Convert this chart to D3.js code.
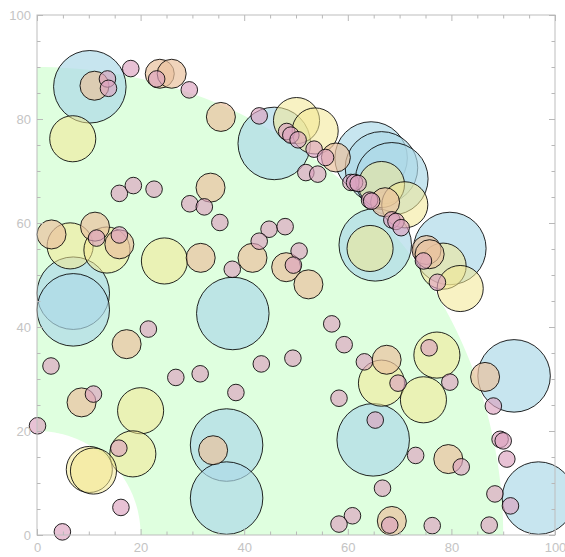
<!DOCTYPE html>
<html>
<head>
<meta charset="utf-8">
<script src="https://cdn.jsdelivr.net/npm/d3@7"></script>
<style>
  body { margin: 0; background: #fff; }
  .tick text { font-family: "Liberation Sans", Arial, sans-serif; font-size: 13px; fill: #c4c4c4; }
  .tick line { stroke: #b8b8b8; }
</style>
</head>
<body>
<div id="chart"></div>
<script>
// Radii (data units) for each bubble group
const radii = { blue: 7, yellow: 4.45, tan: 2.8, pink: 1.6 };

// Shaded band: radius range around the origin
const bandInner = 20;
const bandOuter = 90;

const majorTicks = [0, 20, 40, 60, 80, 100];
const minorTicks = [5, 10, 15, 25, 30, 35, 45, 50, 55, 65, 70, 75, 85, 90, 95];

const bluePts = [
  [10.2, 86.2], [45.8, 75.3], [64.5, 72.5], [66.5, 70.6], [68.5, 68.5],
  [65.3, 55.8], [79.7, 55.1], [7.0, 46.5], [7.0, 43.3], [37.8, 42.6],
  [92.1, 30.6], [64.9, 18.3], [36.6, 17.3], [36.6, 7.1], [96.8, 7.1]
];

const yellowPts = [
  [6.9, 76.2], [50.1, 79.7], [53.7, 77.7], [66.5, 67.4], [71.0, 63.5],
  [64.3, 55.1], [78.4, 51.7], [81.7, 47.4], [6.4, 55.6], [13.5, 54.8],
  [24.6, 52.7], [77.2, 34.6], [66.5, 29.2], [74.6, 26.0], [20.0, 23.9],
  [18.5, 15.6], [10.1, 12.6], [10.9, 12.3]
];

const tanPts = [
  [11.1, 86.4], [23.7, 88.7], [26.0, 88.7], [35.5, 80.4], [57.7, 72.6],
  [67.2, 64.0], [33.5, 66.8], [2.8, 57.8], [11.2, 59.3], [15.9, 55.9],
  [31.6, 53.3], [41.6, 53.3], [48.1, 51.5], [52.4, 48.2], [75.2, 54.8],
  [75.8, 54.0], [17.3, 36.7], [67.5, 33.7], [86.5, 30.4], [8.6, 25.5],
  [34.0, 16.3], [79.4, 14.6], [68.5, 2.7]
];

const pinkPts = [
  [13.6, 87.7], [13.8, 85.9], [18.1, 89.7], [23.1, 87.7], [29.4, 85.6],
  [42.9, 80.6], [48.2, 77.6], [49.0, 76.9], [50.4, 76.0], [53.5, 74.2],
  [55.7, 72.6], [51.9, 69.7], [54.2, 69.4], [60.6, 67.8], [61.3, 67.8],
  [62.0, 67.6], [64.2, 64.4], [64.6, 64.2], [68.5, 60.6], [69.3, 60.3],
  [70.3, 59.1], [15.9, 65.7], [18.6, 67.2], [22.6, 66.5], [29.5, 63.7],
  [32.3, 63.1], [35.3, 60.1], [44.8, 58.8], [47.9, 59.3], [42.9, 56.5],
  [11.5, 57.1], [15.9, 57.7], [37.7, 51.1], [50.6, 54.6], [49.5, 51.9],
  [74.6, 52.7], [77.3, 48.6], [21.5, 39.6], [56.9, 40.6], [59.3, 36.6],
  [2.7, 32.5], [49.4, 34.0], [43.3, 32.9], [31.5, 31.0], [26.8, 30.3],
  [63.2, 33.3], [75.7, 36.0], [10.9, 27.1], [38.4, 27.4], [58.3, 26.3],
  [69.7, 29.2], [79.7, 29.4], [88.1, 24.8], [65.3, 22.1], [0.1, 21.0],
  [15.8, 16.7], [89.4, 18.4], [90.0, 18.1], [90.7, 14.6], [73.1, 15.3],
  [81.9, 13.1], [66.7, 9.0], [88.4, 7.9], [91.4, 5.6], [16.2, 5.3],
  [4.9, 0.6], [60.9, 3.7], [58.3, 2.1], [68.1, 1.9], [76.3, 1.8],
  [87.3, 1.9]
];

const groups = [
  { name: 'blue', pts: bluePts, fill: 'rgb(173,216,232)', opacity: 0.68 },
  { name: 'yellow', pts: yellowPts, fill: 'rgb(242,231,146)', opacity: 0.55 },
  { name: 'tan', pts: tanPts, fill: 'rgb(234,194,158)', opacity: 0.7 },
  { name: 'pink', pts: pinkPts, fill: 'rgb(220,162,190)', opacity: 0.65 }
];

const W = 565, H = 557;
const x = d3.scaleLinear().domain([0, 100]).range([37, 555]);
const y = d3.scaleLinear().domain([0, 100]).range([535, 15]);

const svg = d3.select('#chart').append('svg')
  .attr('width', W)
  .attr('height', H);

// Green band between the two radii
const angles = d3.range(0, 91, 1).map(d => d * Math.PI / 180);
const band = angles.map(a => [bandOuter * Math.cos(a), bandOuter * Math.sin(a)])
  .concat(angles.slice().reverse().map(a => [bandInner * Math.cos(a), bandInner * Math.sin(a)]));

svg.append('path')
  .datum(band)
  .attr('fill', '#dfffdf')
  .attr('d', d3.line().x(d => x(d[0])).y(d => y(d[1])).curve(d3.curveLinearClosed));

// Bubbles
groups.forEach(g => {
  svg.append('g')
    .selectAll('circle')
    .data(g.pts)
    .enter().append('circle')
    .attr('cx', d => x(d[0]))
    .attr('cy', d => y(d[1]))
    .attr('r', x(radii[g.name]) - x(0))
    .attr('fill', g.fill)
    .attr('fill-opacity', g.opacity)
    .attr('stroke', '#000')
    .attr('stroke-opacity', 0.85)
    .attr('stroke-width', 1);
});

// Frame
svg.append('rect')
  .attr('x', x(0)).attr('y', y(100))
  .attr('width', x(100) - x(0)).attr('height', y(0) - y(100))
  .attr('fill', 'none')
  .attr('stroke', '#bdbdbd')
  .attr('stroke-width', 1);

// Major ticks with labels (left, bottom), inward
svg.append('g')
  .attr('transform', `translate(${x(0)},0)`)
  .call(d3.axisLeft(y).tickValues(majorTicks).tickSize(-6).tickSizeOuter(0).tickPadding(6))
  .call(g => g.select('.domain').remove());

svg.append('g')
  .attr('transform', `translate(0,${y(0)})`)
  .call(d3.axisBottom(x).tickValues(majorTicks).tickSize(-6).tickSizeOuter(0).tickPadding(8))
  .call(g => g.select('.domain').remove());

// Mirrored major ticks (top, right)
svg.append('g')
  .attr('transform', `translate(0,${y(100)})`)
  .call(d3.axisTop(x).tickValues(majorTicks).tickSize(-6).tickFormat(''))
  .call(g => g.select('.domain').remove());

svg.append('g')
  .attr('transform', `translate(${x(100)},0)`)
  .call(d3.axisRight(y).tickValues(majorTicks).tickSize(-6).tickFormat(''))
  .call(g => g.select('.domain').remove());

// Minor ticks on all four sides
[
  [d3.axisLeft(y), `translate(${x(0)},0)`],
  [d3.axisBottom(x), `translate(0,${y(0)})`],
  [d3.axisTop(x), `translate(0,${y(100)})`],
  [d3.axisRight(y), `translate(${x(100)},0)`]
].forEach(([ax, tr]) => {
  svg.append('g')
    .attr('transform', tr)
    .call(ax.tickValues(minorTicks).tickSize(-3.5).tickFormat(''))
    .call(g => g.select('.domain').remove());
});
</script>
</body>
</html>
